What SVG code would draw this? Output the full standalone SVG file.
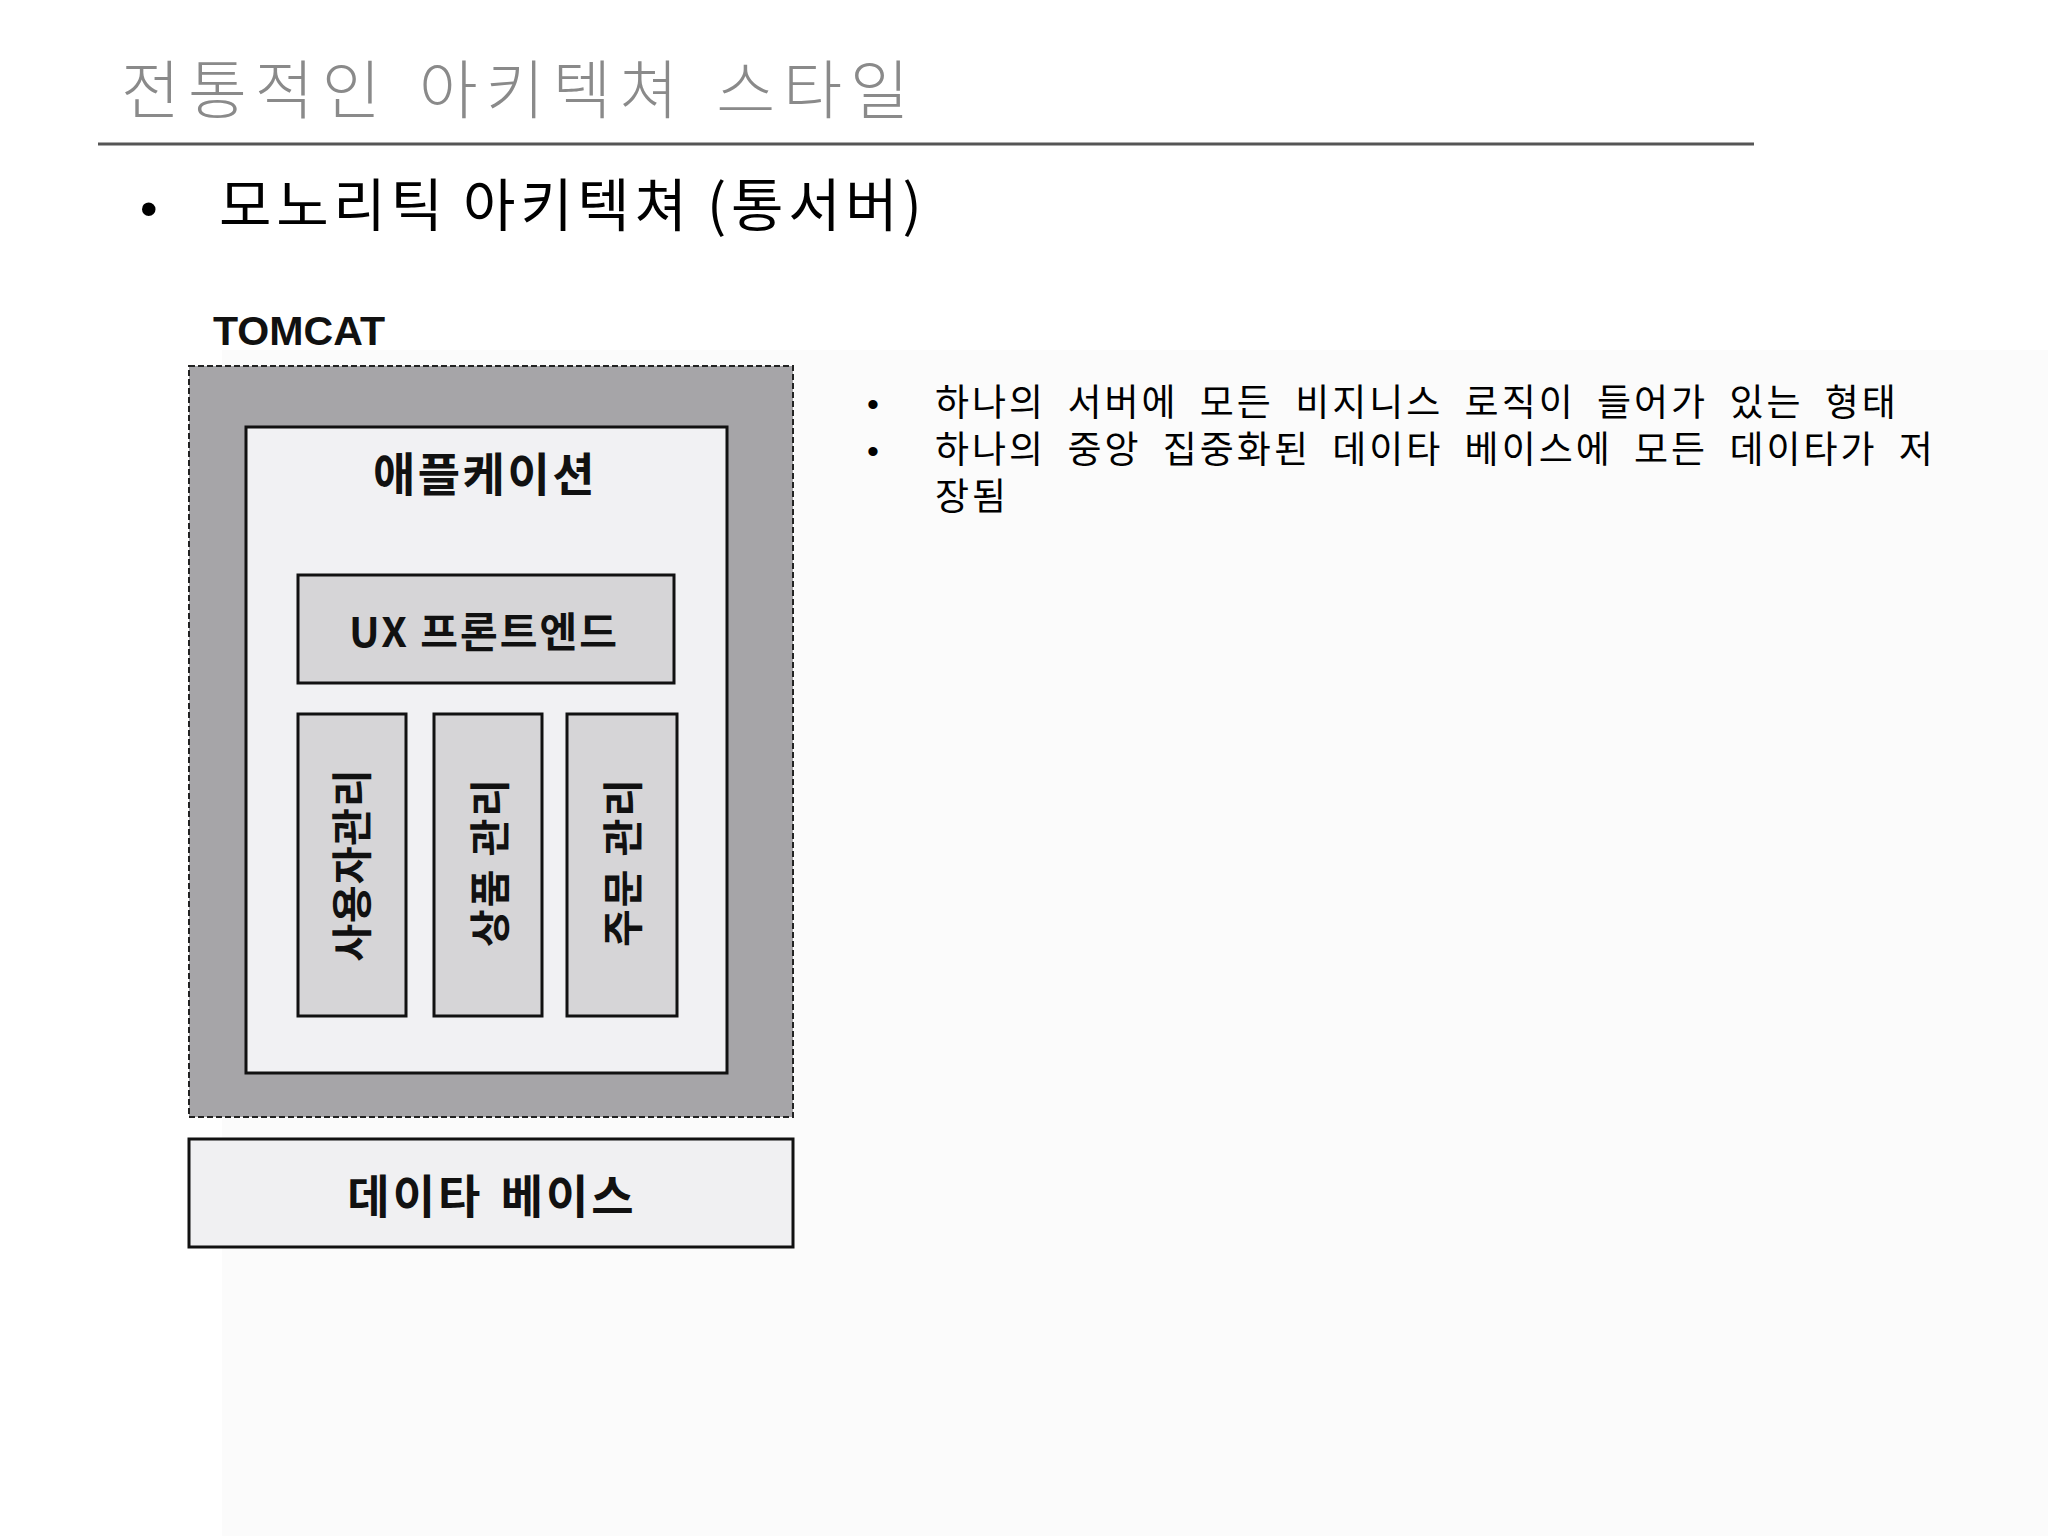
<svg xmlns="http://www.w3.org/2000/svg" width="2048" height="1536" viewBox="0 0 2048 1536">
<style>
.kr{font-family:"Noto Sans CJK KR","Noto Sans",sans-serif}
.b{font-weight:700;fill:#111}
.box{stroke:#111;stroke-width:3}
.mod{fill:#d6d5d7}
</style>
<rect width="2048" height="1536" fill="#ffffff"/>
<rect x="222" y="350" width="1826" height="1186" fill="#fbfbfb"/>
<g id="title">
<text class="kr" x="121" y="113" font-size="64" font-weight="300" fill="#8a8a8a" letter-spacing="8" word-spacing="8">전통적인 아키텍쳐 스타일</text>
<line x1="98" y1="144" x2="1754" y2="144" stroke="#555" stroke-width="3"/>
</g>
<g id="subtitle">
<text x="140" y="226" font-family="Liberation Sans, sans-serif" font-size="50" fill="#000">•</text>
<text class="kr" x="219" y="226" font-size="57" fill="#000" letter-spacing="4.7" word-spacing="-2">모노리틱 아키텍쳐 (통서버)</text>
</g>
<g id="tomcat">
<text x="213" y="345" font-family="Liberation Sans, sans-serif" font-size="40" font-weight="700" fill="#111" textLength="172" lengthAdjust="spacingAndGlyphs">TOMCAT</text>
<rect x="189" y="366" width="604" height="751" fill="#a6a5a8" stroke="#222" stroke-width="2" stroke-dasharray="6 3"/>
</g>
<g id="application">
<rect class="box" x="246" y="427" width="481" height="646" fill="#f1f1f3"/>
<text class="kr b" x="485" y="491" font-size="46" letter-spacing="2.5" text-anchor="middle">애플케이션</text>
</g>
<g id="ux-frontend">
<rect class="box mod" x="298" y="575" width="376" height="108"/>
<text class="kr b" x="484" y="647" font-size="41" letter-spacing="2" text-anchor="middle">UX 프론트엔드</text>
</g>
<g id="user-mgmt">
<rect class="box mod" x="298" y="714" width="108" height="302"/>
<text class="kr b" font-size="41" letter-spacing="1" text-anchor="middle" transform="translate(367 865) rotate(-90)">사용자관리</text>
</g>
<g id="product-mgmt">
<rect class="box mod" x="434" y="714" width="108" height="302"/>
<text class="kr b" font-size="41" letter-spacing="2" text-anchor="middle" transform="translate(505 862) rotate(-90)">상품 관리</text>
</g>
<g id="order-mgmt">
<rect class="box mod" x="567" y="714" width="110" height="302"/>
<text class="kr b" font-size="41" letter-spacing="2" text-anchor="middle" transform="translate(638 862) rotate(-90)">주문 관리</text>
</g>
<g id="database">
<rect class="box" x="189" y="1139" width="604" height="108" fill="#f0f0f2"/>
<text class="kr b" x="492" y="1213" font-size="46" letter-spacing="3" text-anchor="middle" word-spacing="4">데이타 베이스</text>
</g>
<g id="connectors"></g>
<g id="notes" fill="#000" font-family="'Liberation Sans','Noto Sans CJK KR',sans-serif">
<text x="867" y="416" font-size="34">•</text>
<text x="867" y="463" font-size="34">•</text>
<text font-size="37" letter-spacing="3" word-spacing="8"><tspan x="935" y="416">하나의 서버에 모든 비지니스 로직이 들어가 있는 형태</tspan><tspan x="935" y="463">하나의 중앙 집중화된 데이타 베이스에 모든 데이타가 저</tspan><tspan x="935" y="510">장됨</tspan></text>
</g>
</svg>
